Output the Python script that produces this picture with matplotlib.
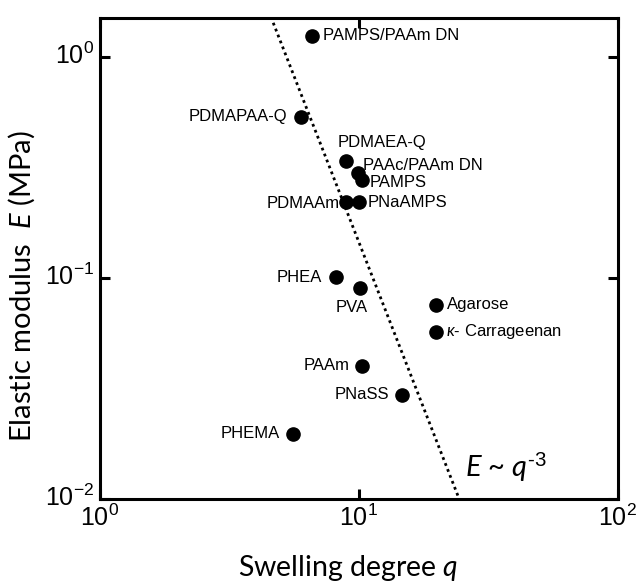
import numpy as np
import matplotlib
matplotlib.use('Agg')
import matplotlib.pyplot as plt
import matplotlib.transforms as mtransforms

plt.rcParams['font.family'] = ['Lato', 'DejaVu Sans']
plt.rcParams['mathtext.fontset'] = 'custom'
plt.rcParams['mathtext.rm'] = 'Liberation Sans'
plt.rcParams['mathtext.it'] = 'Lato:italic'
plt.rcParams['mathtext.bf'] = 'Lato:bold'

# gel data: swelling degree q and elastic modulus E (MPa)
names = ['PAMPS/PAAm DN', 'PDMAPAA-Q', 'PDMAEA-Q', 'PAAc/PAAm DN', 'PAMPS',
         'PDMAAm', 'PNaAMPS', 'PHEA', 'PVA', 'Agarose',
         r'$\kappa$- Carrageenan', 'PAAm', 'PNaSS', 'PHEMA']
q = [6.6, 5.97, 8.9, 9.95, 10.3, 8.95, 10.0, 8.15, 10.1, 19.9, 19.9, 10.3, 14.6, 5.55]
E = [1.245, 0.537, 0.337, 0.298, 0.278, 0.220, 0.220, 0.1007, 0.0897, 0.0755,
     0.0572, 0.040, 0.0296, 0.0197]
# label offsets in pixels and alignment
offsets = [(11, 0, 'left'), (-14, 0, 'right'), (-8, 19, 'left'), (5, 8, 'left'),
           (7, -3, 'left'), (-7, -1, 'right'), (9, 0, 'left'), (-14, 0, 'right'),
           (-8, -19, 'center'), (11, 0, 'left'), (10, 0, 'left'), (-13, 0, 'right'),
           (-12, 0, 'right'), (-13, 0, 'right')]

# scaling line E ~ q^-3
q_line = np.array([4.0, 30.0])
E_line = 145.0 * q_line ** -3.0

fig = plt.figure(figsize=(6.41, 5.83), dpi=100)
ax = fig.add_axes([0.156, 0.144, 0.808, 0.825])

ax.plot(q_line, E_line, color='black', linestyle=(0, (1, 1.3)), linewidth=2.0, zorder=2)
ax.plot(q, E, 'o', color='black', markersize=9.5, linestyle='none', zorder=3)

for name, x, y, (dx, dy, ha) in zip(names, q, E, offsets):
    ax.annotate(name, (x, y), xytext=(dx, dy), textcoords='offset pixels',
                ha=ha, va='center', fontsize=12, family='Liberation Sans')

ax.text(25.7, 0.0126, r'E ~ $\mathit{q}^{\mathit{\text{-}3}}$', fontsize=21,
        style='italic', va='baseline', ha='left')

ax.set_xscale('log')
ax.set_yscale('log')
ax.set_xlim(1, 100)
ax.set_ylim(0.01, 1.5)
ax.minorticks_off()

for s in ax.spines.values():
    s.set_linewidth(2.2)
ax.tick_params(which='major', direction='in', top=True, right=True, length=7.5,
               width=2.2, labelsize=18, labelfontfamily='Liberation Sans')
ax.tick_params(axis='x', pad=4)
ax.tick_params(axis='y', pad=4)

# y tick labels sit a little above their ticks in the original
shift = mtransforms.ScaledTranslation(0, 4 / 100, fig.dpi_scale_trans)
for lbl in ax.get_yticklabels():
    lbl.set_transform(lbl.get_transform() + shift)

ax.set_xlabel(r'Swelling degree $\mathit{q}$', fontsize=20.5)
ax.set_ylabel(r'Elastic modulus  $\mathit{E}$ (MPa)', fontsize=21)
ax.xaxis.set_label_coords(0.479, -0.113)
ax.yaxis.set_label_coords(-0.122, 0.443)

fig.savefig('out.png', dpi=100, facecolor='white')
